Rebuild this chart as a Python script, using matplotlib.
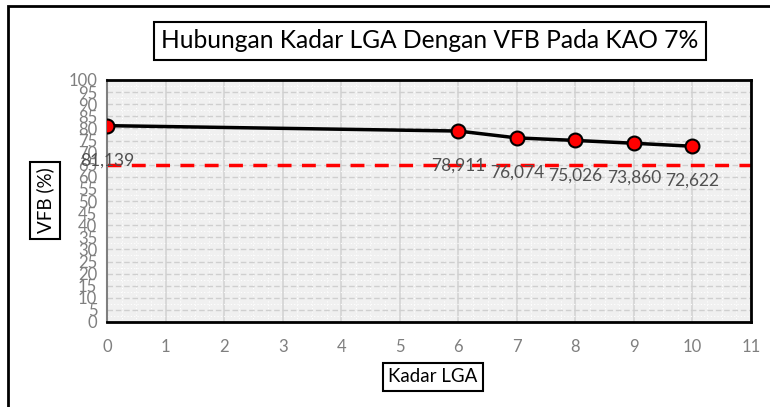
import matplotlib.pyplot as plt
import numpy as np
from matplotlib.patches import Rectangle

kadar_lga = [0, 6, 7, 8, 9, 10]
vfb = [81.139, 78.911, 76.074, 75.026, 73.860, 72.622]
vfb_labels = ["81,139", "78,911", "76,074", "75,026", "73,860", "72,622"]
batas_vfb = 65
x_ticks = list(range(0, 12))
y_ticks = list(range(0, 101, 5))

plt.rcParams["font.family"] = ["Lato", "DejaVu Sans"]

fig = plt.figure(figsize=(7.7, 4.07), dpi=100)
W, H = 770, 407
ax = fig.add_axes([107 / W, 1 - 322 / H, (751 - 107) / W, (322 - 80) / H])

# outer chart frame (runs off the right and bottom edge)
fig.patches.append(Rectangle((8 / W, -0.1), 1.2, 1 - 6 / H + 0.1,
                             transform=fig.transFigure, fill=False,
                             edgecolor="black", linewidth=2))

ax.set_facecolor("#f0f0f0")
ax.set_xlim(0, 11)
ax.set_ylim(0, 100)
ax.set_xticks(x_ticks)
ax.set_yticks(y_ticks)
ax.set_yticks(np.arange(0, 100, 2.5), minor=True)
ax.set_xticks(np.arange(0, 11, 0.25), minor=True)
ax.grid(axis="x", which="major", color="#d4d4d4", linewidth=1.2, linestyle="-")
ax.grid(axis="y", which="major", color="#cfcfcf", linewidth=1.0, linestyle=(0, (4, 2)))
ax.grid(which="minor", color="white", linewidth=0.8, linestyle=(0, (1, 2)))
ax.set_axisbelow(True)
ax.tick_params(which="both", length=0)
ax.tick_params(axis="both", labelsize=12, labelcolor="#7f7f7f")
ax.tick_params(axis="x", pad=12)
ax.tick_params(axis="y", pad=7)

for side in ["top", "right", "bottom"]:
    ax.spines[side].set_color("black")
    ax.spines[side].set_linewidth(2)
ax.spines["left"].set_color("#7f7f7f")
ax.spines["left"].set_linewidth(1.5)

ax.axhline(batas_vfb, color="#ff0000", linewidth=2.5, linestyle=(0, (4, 3)), zorder=2)

ax.plot(kadar_lga, vfb, color="black", linewidth=2.5, marker="o",
        markersize=10, markerfacecolor="#ff0000", markeredgecolor="black",
        markeredgewidth=1.5, zorder=3)

for x, y, t in zip(kadar_lga, vfb, vfb_labels):
    ax.annotate(t, (x, y), xytext=(0, -25), textcoords="offset points",
                ha="center", va="center", fontsize=12.5, color="#505050",
                zorder=4)

box = dict(boxstyle="square,pad=0.3", facecolor="white", edgecolor="black", linewidth=1.5)
fig.text(430 / W, 1 - 41 / H, "Hubungan Kadar LGA Dengan VFB Pada KAO 7%",
         ha="center", va="center", fontsize=17.7, color="black", bbox=box)
fig.text(45 / W, 1 - 200 / H, "VFB (%)", rotation=90, ha="center", va="center",
         fontsize=13.5, color="black", bbox=box)
fig.text(433 / W, 1 - 377 / H, "Kadar LGA", ha="center", va="center",
         fontsize=13.5, color="black", bbox=box)

fig.savefig("out.png", dpi=100)
